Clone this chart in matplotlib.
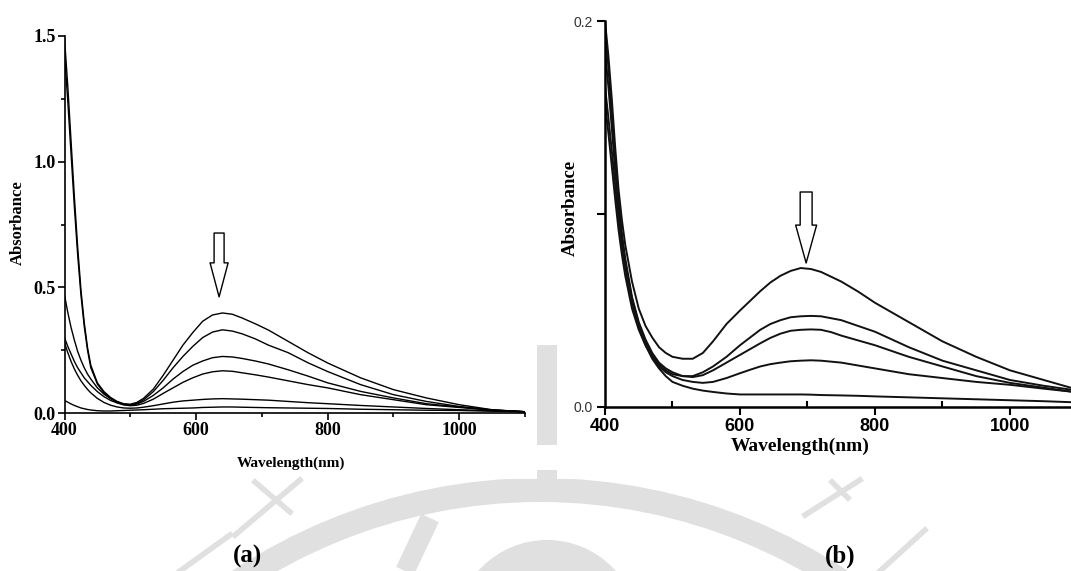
import matplotlib.pyplot as plt
from matplotlib.patches import Circle, Rectangle
from matplotlib.ticker import MultipleLocator, FixedLocator

# ---- panel (a) spectra ----
wl_a = [400, 405, 410, 415, 420, 425, 430, 435, 440, 450, 460, 470, 480, 490, 500,
        510, 520, 535, 550, 565, 580, 595, 610, 625, 640, 655, 670, 690, 710, 740,
        770, 800, 850, 900, 950, 1000, 1050, 1100]
abs_a1 = [1.49, 1.30, 1.08, 0.86, 0.66, 0.49, 0.36, 0.26, 0.19, 0.12, 0.085, 0.062, 0.046,
          0.037, 0.035, 0.042, 0.058, 0.095, 0.15, 0.21, 0.27, 0.32, 0.365, 0.39, 0.398,
          0.393, 0.378, 0.355, 0.330, 0.285, 0.24, 0.199, 0.14, 0.093, 0.06, 0.033, 0.013, 0.005]
abs_a2 = [1.43, 1.24, 1.03, 0.82, 0.63, 0.47, 0.345, 0.25, 0.18, 0.115, 0.08, 0.058, 0.043,
          0.034, 0.032, 0.038, 0.052, 0.085, 0.13, 0.18, 0.225, 0.265, 0.30, 0.322, 0.331,
          0.326, 0.315, 0.295, 0.27, 0.24, 0.20, 0.165, 0.113, 0.073, 0.046, 0.026, 0.012, 0.005]
abs_a3 = [0.47, 0.40, 0.34, 0.29, 0.245, 0.21, 0.18, 0.155, 0.135, 0.10, 0.075, 0.057, 0.044,
          0.035, 0.032, 0.036, 0.046, 0.07, 0.10, 0.135, 0.165, 0.19, 0.207, 0.22, 0.225,
          0.223, 0.217, 0.207, 0.195, 0.172, 0.147, 0.12, 0.086, 0.06, 0.037, 0.024, 0.012, 0.005]
abs_a4 = [0.30, 0.265, 0.235, 0.205, 0.18, 0.16, 0.14, 0.125, 0.11, 0.085, 0.065, 0.05, 0.04,
          0.032, 0.029, 0.031, 0.038, 0.055, 0.078, 0.10, 0.122, 0.14, 0.155, 0.164, 0.168,
          0.166, 0.16, 0.152, 0.143, 0.128, 0.113, 0.10, 0.073, 0.053, 0.033, 0.022, 0.011, 0.005]
abs_a5 = [0.28, 0.24, 0.205, 0.175, 0.15, 0.128, 0.11, 0.094, 0.08, 0.058, 0.042, 0.031, 0.024,
          0.02, 0.019, 0.02, 0.023, 0.029, 0.036, 0.043, 0.048, 0.051, 0.054, 0.056, 0.057,
          0.056, 0.055, 0.053, 0.051, 0.046, 0.041, 0.037, 0.030, 0.024, 0.018, 0.013, 0.009, 0.005]
abs_a6 = [0.05, 0.043, 0.036, 0.03, 0.025, 0.02, 0.017, 0.014, 0.012, 0.009, 0.008, 0.008, 0.009,
          0.01, 0.011, 0.012, 0.013, 0.015, 0.017, 0.018, 0.019, 0.02, 0.022, 0.023, 0.024,
          0.024, 0.023, 0.022, 0.021, 0.02, 0.019, 0.018, 0.015, 0.013, 0.011, 0.01, 0.007, 0.005]

# ---- panel (b) spectra ----
wl_b = [400, 405, 410, 415, 420, 425, 430, 440, 450, 460, 470, 480, 490, 500, 515, 530,
        545, 560, 580, 600, 615, 630, 645, 660, 675, 690, 705, 720, 735, 750, 775, 800,
        850, 900, 950, 1000, 1050, 1090]
abs_b1 = [0.200, 0.182, 0.160, 0.135, 0.113, 0.097, 0.084, 0.065, 0.051, 0.042, 0.036, 0.031,
          0.028, 0.026, 0.025, 0.025, 0.028, 0.034, 0.043, 0.050, 0.055, 0.060, 0.0645, 0.068,
          0.0705, 0.072, 0.0715, 0.070, 0.0675, 0.065, 0.0598, 0.054, 0.044, 0.034, 0.026,
          0.019, 0.014, 0.010]
abs_b2 = [0.198, 0.176, 0.152, 0.128, 0.107, 0.090, 0.077, 0.057, 0.044, 0.035, 0.028, 0.023,
          0.020, 0.018, 0.016, 0.016, 0.018, 0.021, 0.026, 0.032, 0.036, 0.040, 0.043, 0.045,
          0.0465, 0.047, 0.0472, 0.047, 0.046, 0.045, 0.042, 0.039, 0.031, 0.024, 0.019,
          0.014, 0.011, 0.009]
abs_b3 = [0.185, 0.166, 0.145, 0.123, 0.104, 0.088, 0.075, 0.056, 0.043, 0.034, 0.027, 0.022,
          0.019, 0.017, 0.016, 0.0155, 0.0165, 0.019, 0.023, 0.027, 0.030, 0.033, 0.0358, 0.038,
          0.0395, 0.040, 0.0402, 0.040, 0.0388, 0.037, 0.0345, 0.032, 0.026, 0.021, 0.016,
          0.0125, 0.010, 0.008]
abs_b4 = [0.166, 0.150, 0.133, 0.115, 0.098, 0.084, 0.072, 0.054, 0.041, 0.032, 0.026, 0.021,
          0.018, 0.016, 0.014, 0.013, 0.0125, 0.013, 0.015, 0.0175, 0.0193, 0.021, 0.0222, 0.023,
          0.0237, 0.024, 0.0242, 0.024, 0.0235, 0.023, 0.0215, 0.020, 0.017, 0.015, 0.013,
          0.0115, 0.0095, 0.008]
abs_b5 = [0.158, 0.142, 0.125, 0.108, 0.092, 0.079, 0.068, 0.051, 0.040, 0.032, 0.025, 0.020,
          0.016, 0.013, 0.011, 0.0095, 0.0085, 0.0078, 0.007, 0.0065, 0.0065, 0.0065, 0.0065,
          0.0065, 0.0065, 0.0065, 0.0064, 0.0062, 0.0061, 0.006, 0.0058, 0.0055, 0.005, 0.0045,
          0.004, 0.0035, 0.003, 0.0025]

plt.rcParams["font.family"] = "Liberation Serif"
plt.rcParams["font.weight"] = "bold"

fig = plt.figure(figsize=(10.71, 5.71), dpi=100)

# background watermark (pixel coordinates)
bg = fig.add_axes([0, 0, 1, 1])
bg.set_xlim(0, 1071)
bg.set_ylim(571, 0)
bg.axis("off")
grey = "#e0e0e0"
bg.add_patch(Circle((540, 1035), 557, fc=grey, ec="none"))
bg.add_patch(Circle((540, 1035), 533, fc="white", ec="none"))
bg.add_patch(Circle((547, 632), 92, fc=grey, ec="none"))
bg.plot([430, 405], [518, 571], color=grey, lw=14, solid_capstyle="butt")
for xs, ys in [([235, 300], [535, 480]), ([255, 290], [482, 512]), ([180, 230], [571, 535]),
               ([805, 860], [515, 480]), ([832, 848], [482, 498]), ([880, 925], [571, 530])]:
    bg.plot(xs, ys, color=grey, lw=4)
bg.add_patch(Rectangle((0, 0), 537, 479, fc="white", ec="none"))
bg.add_patch(Rectangle((557, 0), 514, 479, fc="white", ec="none"))
bg.add_patch(Rectangle((537, 345), 20, 100, fc=grey, ec="none"))
bg.add_patch(Rectangle((537, 470), 20, 9, fc=grey, ec="none"))

# ---- panel (a) ----
ax1 = fig.add_axes([64.5 / 1071, 158 / 571, 460.5 / 1071, 377 / 571])
ax1.patch.set_alpha(0)
for y in [abs_a1, abs_a2, abs_a3, abs_a4, abs_a5, abs_a6]:
    ax1.plot(wl_a, y, color="black", lw=1.0)
ax1.set_xlim(400, 1100)
ax1.set_ylim(0, 1.5)
ax1.spines[["top", "right"]].set_visible(False)
ax1.spines[["left", "bottom"]].set_linewidth(1.2)
ax1.xaxis.set_major_locator(FixedLocator([400, 600, 800, 1000]))
ax1.xaxis.set_minor_locator(FixedLocator([500, 700, 900, 1100]))
ax1.yaxis.set_major_locator(MultipleLocator(0.5))
ax1.yaxis.set_minor_locator(MultipleLocator(0.25))
ax1.yaxis.set_major_formatter("{x:.1f}")
ax1.tick_params(which="major", direction="out", length=5, width=1.2, labelsize=13, pad=1.5)
ax1.tick_params(which="minor", direction="out", length=3, width=1.2)
ax1.annotate("", xy=(635, 0.462), xytext=(635, 0.716),
             arrowprops=dict(arrowstyle="simple,head_length=2.45,head_width=1.3,tail_width=0.72",
                             fc="white", ec="black", lw=1, shrinkA=0, shrinkB=0,
                             mutation_scale=10))
fig.text(291 / 1071, 1 - 463 / 571, "Wavelength(nm)", ha="center", va="center", fontsize=11)
fig.text(18 / 1071, 1 - 223 / 571, "Absorbance", ha="center", va="center", fontsize=12,
         rotation=90)

# ---- panel (b) ----
ax2 = fig.add_axes([605 / 1071, 164 / 571, 466 / 1071, 386 / 571])
ax2.patch.set_alpha(0)
for y in [abs_b1, abs_b2, abs_b3, abs_b4, abs_b5]:
    ax2.plot(wl_b, y, color="#111111", lw=1.4)
ax2.set_xlim(400, 1090.4)
ax2.set_ylim(0, 0.2)
ax2.spines[["top", "right"]].set_visible(False)
ax2.spines[["left", "bottom"]].set_linewidth(1.8)
ax2.xaxis.set_major_locator(FixedLocator([400, 600, 800, 1000]))
ax2.xaxis.set_minor_locator(FixedLocator([500, 700, 900]))
ax2.yaxis.set_major_locator(FixedLocator([0.0, 0.1, 0.2]))
ax2.set_yticklabels(["0.0", "", "0.2"], fontfamily="Liberation Sans", fontweight="normal",
                    fontsize=10, color="#333333")
ax2.set_xticklabels(["400", "600", "800", "1000"], fontfamily="Liberation Sans",
                    fontweight="bold", fontsize=13)
ax2.tick_params(axis="x", which="major", direction="out", length=6, width=1.5, pad=2)
ax2.tick_params(axis="x", which="minor", direction="in", length=4, width=1.5)
ax2.tick_params(axis="y", which="major", direction="out", length=6, width=1.5, pad=3)
ax2.annotate("", xy=(698, 0.0746), xytext=(698, 0.1114),
             arrowprops=dict(arrowstyle="simple,head_length=2.73,head_width=1.51,tail_width=0.86",
                             fc="white", ec="black", lw=1, shrinkA=0, shrinkB=0,
                             mutation_scale=10))
fig.text(800 / 1071, 1 - 446 / 571, "Wavelength(nm)", ha="center", va="center", fontsize=14)
fig.text(570 / 1071, 1 - 208 / 571, "Absorbance", ha="center", va="center", fontsize=13.5,
         rotation=90)

fig.text(248 / 1071, 1 - 556 / 571, "(a)", ha="center", va="center", fontsize=18)
fig.text(840 / 1071, 1 - 556 / 571, "(b)", ha="center", va="center", fontsize=18)

fig.savefig("out.png", dpi=100)
